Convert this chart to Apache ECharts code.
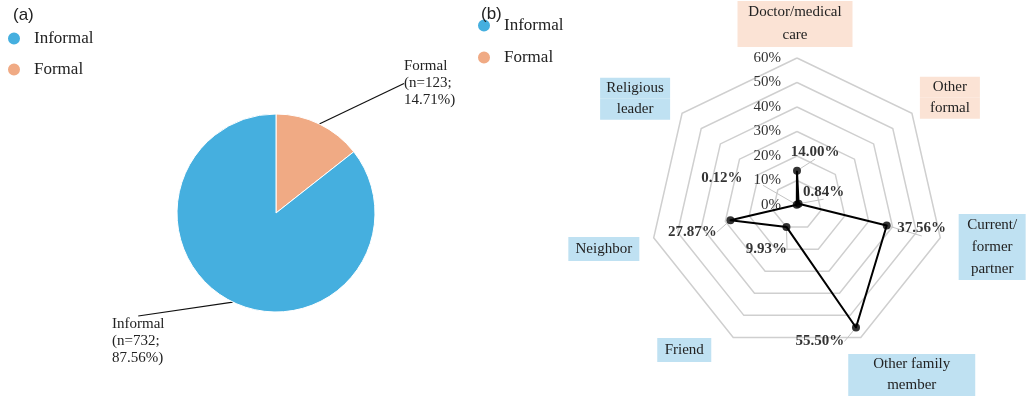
<!DOCTYPE html>
<html>
<head>
<meta charset="utf-8">
<script src="https://cdn.jsdelivr.net/npm/echarts@6/dist/echarts.min.js"></script>
<style>
html, body { margin: 0; padding: 0; background: #fff; }
#main { width: 1026px; height: 399px; }
</style>
</head>
<body>
<div id="main"></div>
<script>
// (a) pie
var pieNames = ['Formal', 'Informal']
var pieCounts = [123, 732]
var piePercents = ['14.71', '87.56']
// (b) radar, clockwise from the top
var radarNames = ['Doctor/medical\ncare', 'Other\nformal', 'Current/\nformer\npartner', 'Other family\nmember', 'Friend', 'Neighbor', 'Religious\nleader']
var radarGroups = ['Formal', 'Formal', 'Informal', 'Informal', 'Informal', 'Informal', 'Informal']
var radarValues = [14.00, 0.84, 37.56, 55.50, 9.93, 27.87, 0.12]
var radarMax = 60
var radarStep = 10

var serif = '"Liberation Serif", "Times New Roman", serif'
var colors = { Informal: '#45afdf', Formal: '#f0aa84' }
var boxColors = { Informal: '#bfe1f2', Formal: '#fbe3d5' }

// label placement (style only)
var pieLabelPos = [[404, 58], [112, 316]]
var pieLabelPad = [[0, 0, 0, 0], [0, 0, 80, 0]]
var valueLabelOffset = [[18, -19], [25, -12], [35, 3], [-36, 14], [-20, 22], [-38, 12], [-75, -27]]
var nameBoxWidth = [115, 60, 67, 127, 54, 71, 70]
var nameLineHeight = [23, 21, 22, 21, 24, 24, 21]
var nameShift = [[-2, 12], [2, 13], [7, -1], [31, -4], [-29, -29], [-5, 1], [-11, 14]]

var radarCenter = [797, 205]
var radarRadius = 147

// echarts radar runs counterclockwise, so reverse all but the first
var order = [0]
for (var k = radarNames.length - 1; k > 0; k--) order.push(k)

var rich = {}
radarNames.forEach(function (n, i) {
  rich['b' + i] = {
    width: nameBoxWidth[i],
    height: nameLineHeight[i],
    align: 'center',
    lineHeight: nameLineHeight[i],
    backgroundColor: boxColors[radarGroups[i]],
    fontFamily: serif,
    fontSize: 15,
    color: '#222'
  }
  rich['h' + i] = { width: Math.abs(nameShift[i][0]) * 2, align: 'center', fontSize: 1 }
  rich['v' + i] = { lineHeight: Math.abs(nameShift[i][1]) * 2, fontSize: 1 }
})

var legendText = { fontSize: 17, fontFamily: serif, color: '#222', padding: [0, 0, 0, 8] }
var titleText = { fontSize: 17, fontWeight: 'normal', fontFamily: '"Liberation Sans", Arial, sans-serif', color: '#222' }

var myChart = echarts.init(document.getElementById('main'))
myChart.setOption({
  animation: false,
  title: [
    { text: '(a)', left: 13, top: 7, padding: 0, textStyle: titleText },
    { text: '(b)', left: 481, top: 6, padding: 0, textStyle: titleText }
  ],
  legend: [
    {
      left: 6, top: 30, orient: 'vertical', icon: 'circle', itemWidth: 14, itemHeight: 14, itemGap: 14,
      padding: 0, selectedMode: false,
      data: ['Informal', 'Formal'],
      textStyle: legendText
    },
    {
      left: 476, top: 17, orient: 'vertical', icon: 'circle', itemWidth: 14, itemHeight: 14, itemGap: 15,
      padding: 0, selectedMode: false,
      data: ['Informal', 'Formal'],
      textStyle: legendText
    }
  ],
  radar: {
    center: radarCenter,
    radius: radarRadius,
    startAngle: 90,
    shape: 'polygon',
    splitNumber: radarMax / radarStep,
    nameGap: 46,
    axisName: {
      align: 'center',
      verticalAlign: 'middle',
      rich: rich,
      formatter: function (name) {
        var i = radarNames.indexOf(name)
        var s = nameShift[i]
        var lines = name.split('\n').map(function (t) {
          var box = '{b' + i + '|' + t + '}'
          if (s[0] > 0) return '{h' + i + '| }' + box
          if (s[0] < 0) return box + '{h' + i + '| }'
          return box
        })
        if (s[1] > 0) lines.unshift('{v' + i + '| }')
        if (s[1] < 0) lines.push('{v' + i + '| }')
        return lines.join('\n')
      }
    },
    indicator: order.map(function (i) {
      return { name: radarNames[i], min: 0, max: radarMax }
    }),
    splitLine: { lineStyle: { color: '#cfcfcf', width: 1.5 } },
    splitArea: { show: false },
    axisLine: { show: false },
    axisTick: { show: false },
    axisLabel: { show: false }
  },
  polar: { center: radarCenter, radius: radarRadius },
  angleAxis: { type: 'value', min: 0, max: radarNames.length, startAngle: 90, clockwise: true, show: false },
  radiusAxis: {
    type: 'value', min: 0, max: radarMax, interval: radarStep,
    axisLine: { show: false }, axisTick: { show: false }, splitLine: { show: false },
    axisLabel: { formatter: '{value}%', margin: 16, fontSize: 15, fontFamily: serif, color: '#333' }
  },
  series: [
    {
      type: 'pie',
      center: [276, 213],
      radius: 99,
      startAngle: 90,
      emphasis: { disabled: true },
      itemStyle: { borderColor: '#fff', borderWidth: 1 },
      data: pieNames.map(function (n, i) {
        return { name: n, value: pieCounts[i], itemStyle: { color: colors[n] }, label: { padding: pieLabelPad[i] } }
      }),
      label: {
        formatter: function (p) {
          return p.name + '\n(n=' + p.value + ';\n' + piePercents[p.dataIndex] + '%)'
        },
        fontFamily: serif, fontSize: 15, lineHeight: 17, color: '#222'
      },
      labelLine: { show: true, length: 10, length2: 0, lineStyle: { color: '#111', width: 1.2 } },
      labelLayout: function (p) {
        var pos = pieLabelPos[p.dataIndex]
        return { x: pos[0], y: pos[1], align: 'left', verticalAlign: 'top' }
      }
    },
    {
      type: 'radar',
      symbol: 'none',
      lineStyle: { color: '#000', width: 2 },
      emphasis: { disabled: true },
      data: [{ value: order.map(function (i) { return radarValues[i] }) }]
    },
    {
      type: 'scatter',
      coordinateSystem: 'polar',
      symbolSize: 8,
      itemStyle: { color: '#000' },
      emphasis: { disabled: true },
      z: 5,
      data: radarValues.map(function (v, i) {
        return { value: [v, i], label: { offset: valueLabelOffset[i] } }
      }),
      label: {
        show: true,
        position: 'inside',
        formatter: function (p) { return p.value[0].toFixed(2) + '%' },
        fontFamily: serif, fontSize: 15, fontWeight: 'bold', color: '#000'
      },
      labelLine: { show: true, length2: 0, lineStyle: { color: '#c4c4c4', width: 1 } }
    }
  ]
})
</script>
</body>
</html>
